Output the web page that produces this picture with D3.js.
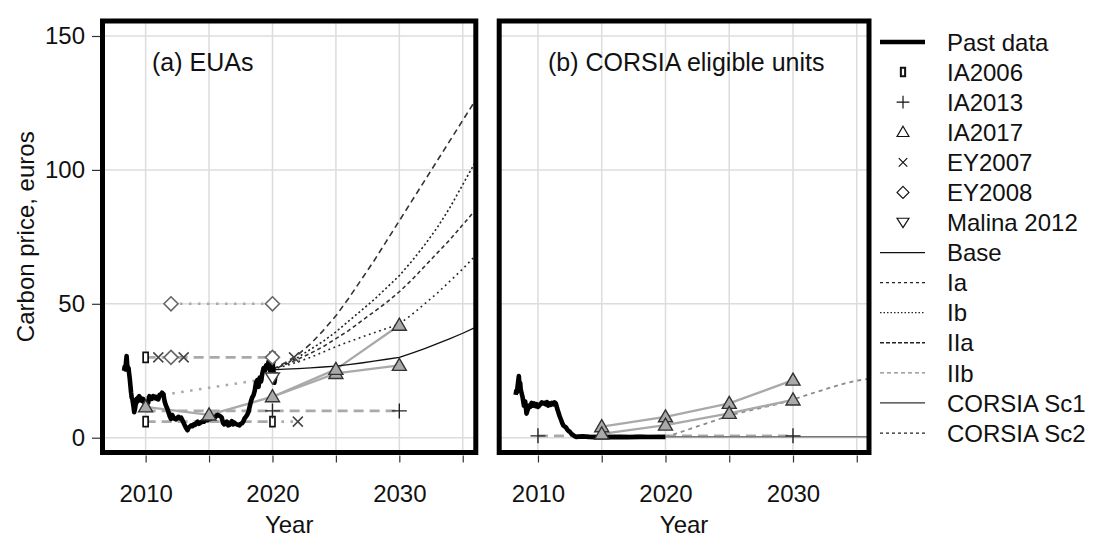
<!DOCTYPE html>
<html><head><meta charset="utf-8">
<script src="https://cdn.jsdelivr.net/npm/d3@7"></script>
<style>
body{margin:0;background:#fff;}
svg{display:block;font-family:"Liberation Sans",Arial,sans-serif;}
</style></head><body>
<svg id="chart" width="1094" height="541"></svg>
<script>
// ---- axis ticks ----
const gridYears = [2010, 2015, 2020, 2025, 2030, 2035];
const labelYears = [2010, 2020, 2030];
const yTicks = [0, 50, 100, 150];

// ---- observed prices: EU allowances [year, EUR] ----
const pastEUA = [
 [2008.30,25.0],[2008.35,26.5],[2008.40,25.5],[2008.45,28.0],[2008.50,30.5],[2008.55,27.0],[2008.60,25.5],
 [2008.65,26.0],[2008.70,24.0],[2008.75,22.0],[2008.80,19.5],[2008.85,17.0],[2008.90,15.0],[2008.95,14.5],
 [2009.00,13.0],[2009.05,11.5],[2009.10,9.5],[2009.15,10.5],[2009.20,12.0],[2009.25,13.0],[2009.30,14.5],
 [2009.35,13.5],[2009.40,15.0],[2009.45,14.0],[2009.50,15.5],[2009.55,14.0],[2009.60,14.8],[2009.70,13.8],
 [2009.80,14.5],[2009.90,13.0],[2010.00,12.5],[2010.10,13.5],[2010.20,13.0],[2010.30,15.5],[2010.40,15.0],
 [2010.50,14.5],[2010.60,15.5],[2010.70,14.8],[2010.80,15.2],[2010.90,14.5],[2011.00,14.3],[2011.10,16.0],
 [2011.20,15.8],[2011.30,16.8],[2011.40,16.3],[2011.50,13.5],[2011.60,12.0],[2011.70,11.0],[2011.80,9.5],
 [2011.90,8.0],[2012.00,7.0],[2012.10,8.5],[2012.20,7.5],[2012.30,7.0],[2012.40,6.8],[2012.50,7.5],
 [2012.60,7.8],[2012.70,7.2],[2012.80,7.5],[2012.90,6.5],[2013.00,5.5],[2013.10,4.5],[2013.20,3.5],
 [2013.30,2.8],[2013.40,3.8],[2013.50,4.2],[2013.60,4.6],[2013.70,4.3],[2013.80,5.0],[2013.90,4.8],
 [2014.00,5.5],[2014.10,6.0],[2014.20,5.2],[2014.30,5.5],[2014.40,5.8],[2014.50,6.2],[2014.60,6.0],
 [2014.70,6.4],[2014.80,6.8],[2014.90,6.5],[2015.00,7.2],[2015.10,7.0],[2015.20,7.4],[2015.30,7.6],
 [2015.40,7.3],[2015.50,7.8],[2015.60,8.3],[2015.70,8.5],[2015.80,8.2],[2015.90,8.0],[2016.00,7.5],
 [2016.10,5.5],[2016.20,5.0],[2016.30,5.6],[2016.40,6.0],[2016.50,4.6],[2016.60,4.8],[2016.70,5.5],
 [2016.80,6.2],[2016.90,5.0],[2017.00,5.6],[2017.10,5.2],[2017.20,5.0],[2017.30,4.8],[2017.40,4.6],
 [2017.50,5.2],[2017.60,5.4],[2017.70,6.0],[2017.80,7.2],[2017.90,7.8],[2018.00,8.5],[2018.10,9.5],
 [2018.20,11.5],[2018.30,13.5],[2018.40,15.0],[2018.50,15.8],[2018.60,17.5],[2018.70,20.5],[2018.80,21.5],
 [2018.90,19.0],[2019.00,22.5],[2019.10,21.0],[2019.20,24.0],[2019.30,26.0],[2019.40,25.0],[2019.50,27.0],
 [2019.60,26.5],[2019.70,28.5],[2019.80,25.0],[2019.90,27.5],[2020.00,29.5],[2020.05,26.0],[2020.10,24.0],
 [2020.15,20.5],[2020.20,22.0],[2020.25,24.5]
];

// ---- observed prices: CORSIA eligible units (CERs) ----
const pastCER = [
 [2008.25,16.0],[2008.30,17.5],[2008.35,17.0],[2008.40,19.0],[2008.45,21.0],[2008.50,23.0],[2008.55,19.5],
 [2008.60,20.5],[2008.65,18.0],[2008.70,17.0],[2008.80,15.0],[2008.90,12.0],[2009.00,13.5],[2009.10,9.0],
 [2009.20,10.5],[2009.30,12.0],[2009.40,11.5],[2009.50,13.0],[2009.60,12.0],[2009.70,12.8],[2009.80,11.8],
 [2009.90,12.5],[2010.00,11.5],[2010.10,12.0],[2010.20,12.6],[2010.30,13.2],[2010.40,12.8],[2010.50,13.0],
 [2010.60,12.5],[2010.70,13.3],[2010.80,12.0],[2010.90,12.8],[2011.00,12.3],[2011.10,13.0],[2011.20,12.5],
 [2011.30,13.2],[2011.40,12.8],[2011.50,11.0],[2011.60,9.5],[2011.70,8.0],[2011.80,6.8],[2011.90,5.5],
 [2012.00,4.5],[2012.10,4.2],[2012.20,3.8],[2012.30,3.0],[2012.40,2.5],[2012.50,2.2],[2012.60,1.6],
 [2012.70,1.2],[2012.80,0.8],[2012.90,0.5],[2013.00,0.3],[2013.20,0.4],[2013.50,0.5],[2014.00,0.3],
 [2014.50,0.2],[2015.00,0.3],[2015.50,0.2],[2016.00,0.3],[2017.00,0.2],[2018.00,0.3],[2019.00,0.25],
 [2020.00,0.3]
];

// ---- published forecasts, panel (a) ----
const ia2006High = [[2010, 30], [2020, 30]];
const ia2006Low = [[2010, 6], [2020, 6]];
const ia2013EuaLine = [[2010, 10], [2030, 10]];
const ia2013EuaPts = [[2020, 10], [2030, 10]];
const ia2017EuaLow = [[2010, 11.5], [2015, 8.5], [2020, 15.3], [2025, 24], [2030, 27]];
const ia2017EuaHigh = [[2020, 15.3], [2025, 25.5], [2030, 42]];
const ey2007Pts = [[2011, 30], [2013, 30], [2021.7, 30], [2022, 6]];
const ey2007Low = [[2020, 6], [2022, 6]];
const ey2008High = [[2012, 50], [2020, 50]];
const ey2008Mid = [[2012, 30], [2020, 30]];
const malina = [[2010, 15], [2020, 22.3]];
const malinaPts = [[2020, 22.3]];

// ---- model scenarios, panel (a) ----
const scenYears = [2020,2021,2022,2023,2024,2025,2026,2027,2028,2029,2030,2031,2032,2033,2034,2035,2036];
const scenBase = [25.3,25.6,25.8,26.1,26.4,26.7,27.3,27.9,28.6,29.3,30.0,31.6,33.3,35.1,37.0,39.0,41.2];
const scenIIa  = [25.5,28.0,31.0,35.0,40.0,45.5,52.0,59.0,66.0,73.5,81.0,88.5,96.0,103.5,111.0,118.5,126.0];
const scenIa   = [25.5,27.5,30.0,33.0,36.0,39.5,43.5,47.5,51.5,56.0,60.5,66.0,72.0,78.5,86.0,94.5,103.0];
const scenIIb  = [25.5,27.3,29.3,31.5,34.0,37.0,40.0,43.5,47.0,50.5,54.5,59.0,64.0,69.0,74.0,79.5,85.0];
const scenIb   = [25.5,26.8,28.3,30.0,32.0,34.0,35.8,37.5,39.2,40.8,42.5,46.0,50.0,54.0,58.5,63.0,68.0];

// ---- panel (b) forecasts and scenarios ----
const ia2013Cer = [[2010, 0.7], [2030, 0.7]];
const ia2017CerHigh = [[2015, 4.1], [2020, 7.8], [2025, 12.8], [2030, 21.5]];
const ia2017CerLow = [[2015, 1.4], [2020, 4.7], [2025, 9.1], [2030, 14.1]];
const corsiaSc1 = [[2020, 0.4], [2036.5, 0.4]];
const corsiaSc2 = [0.3,1.8,3.4,5.0,6.6,8.3,9.5,10.6,11.7,12.8,14.3,15.8,17.3,18.8,20.2,21.3,22.0];

const legendLabels = ["Past data","IA2006","IA2013","IA2017","EY2007","EY2008","Malina 2012",
  "Base","Ia","Ib","IIa","IIb","CORSIA Sc1","CORSIA Sc2"];

// ---------------------------------------------------------------
const svg = d3.select("#chart");
const FRAME_TOP = 21, FRAME_BOTTOM = 452.5;
const y = d3.scaleLinear().domain([0, 150]).range([437.7, 36]);

const panels = [
  { key: "a", title: "(a) EUAs", titleX: 152,
    x: d3.scaleLinear().domain([2006.6, 2036.03]).range([102.5, 475.8]) },
  { key: "b", title: "(b) CORSIA eligible units", titleX: 548,
    x: d3.scaleLinear().domain([2006.96, 2035.96]).range([499.2, 869]) }
];

const styles = {
  past:     { stroke: "#000", width: 4.6, dash: null },
  grayDash: { stroke: "#a9a9a9", width: 2.6, dash: "10,6" },
  grayDot:  { stroke: "#a9a9a9", width: 2.6, dash: "2.5,6.5" },
  graySolid:{ stroke: "#a9a9a9", width: 2.3, dash: null },
  base:     { stroke: "#111", width: 1.3, dash: null },
  IIa:      { stroke: "#333", width: 1.6, dash: "6,4" },
  Ia:       { stroke: "#222", width: 1.6, dash: "2,2.5" },
  IIb:      { stroke: "#333", width: 1.6, dash: "4,3" },
  Ib:       { stroke: "#222", width: 1.6, dash: "1.8,3.6" },
  sc1:      { stroke: "#777", width: 1.5, dash: null },
  sc2:      { stroke: "#8a8a8a", width: 1.8, dash: "4,4" }
};

function markerPath(type) {
  switch (type) {
    case "rect": return "M-2.5,-5H2.5V5H-2.5Z";
    case "plus": return "M-7.5,0H7.5M0,-7.5V7.5";
    case "tri": return "M0,-7L7,5H-7Z";
    case "cross": return "M-5,-5L5,5M-5,5L5,-5";
    case "diamond": return "M0,-7L7,0L0,7L-7,0Z";
    case "tridown": return "M0,6L7,-5H-7Z";
  }
}
const markerStyle = {
  rect:    { fill: "#fff", stroke: "#111", width: 1.7 },
  plus:    { fill: "none", stroke: "#222", width: 1.4 },
  tri:     { fill: "#a9a9a9", stroke: "#333", width: 1.4 },
  cross:   { fill: "none", stroke: "#444", width: 1.5 },
  diamond: { fill: "#fff", stroke: "#666", width: 1.6 },
  tridown: { fill: "#fff", stroke: "#444", width: 1.4 }
};

function drawLine(g, x, pts, st) {
  g.append("path")
    .datum(pts)
    .attr("d", d3.line().x(d => x(d[0])).y(d => y(d[1])))
    .attr("fill", "none")
    .attr("stroke", st.stroke)
    .attr("stroke-width", st.width)
    .attr("stroke-linejoin", "round")
    .attr("stroke-dasharray", st.dash);
}
function drawCurve(g, x, years, vals, st) {
  drawLine(g, x, years.map((yr, i) => [yr, vals[i]]), st);
}
function drawMarkers(g, x, pts, type, override) {
  const ms = Object.assign({}, markerStyle[type], override || {});
  g.selectAll(null).data(pts).enter().append("path")
    .attr("transform", d => `translate(${x(d[0])},${y(d[1])})`)
    .attr("d", markerPath(type))
    .attr("fill", ms.fill)
    .attr("stroke", ms.stroke)
    .attr("stroke-width", ms.width);
}

panels.forEach(p => {
  const x = p.x;
  const [x0, x1] = x.range();
  const root = svg.append("g");

  root.append("clipPath").attr("id", "clip-" + p.key)
    .append("rect").attr("x", x0).attr("y", FRAME_TOP)
    .attr("width", x1 - x0).attr("height", FRAME_BOTTOM - FRAME_TOP);

  // grid
  const grid = root.append("g").attr("stroke", "#dcdcdc").attr("stroke-width", 1.5);
  grid.selectAll(null).data(gridYears).enter().append("line")
    .attr("x1", d => x(d)).attr("x2", d => x(d)).attr("y1", FRAME_TOP).attr("y2", FRAME_BOTTOM);
  grid.selectAll(null).data(yTicks).enter().append("line")
    .attr("x1", x0).attr("x2", x1).attr("y1", d => y(d)).attr("y2", d => y(d));

  const g = root.append("g").attr("clip-path", `url(#clip-${p.key})`);

  if (p.key === "a") {
    drawLine(g, x, ia2006High, styles.grayDash);
    drawLine(g, x, ia2006Low, styles.grayDash);
    drawLine(g, x, ia2013EuaLine, styles.grayDash);
    drawLine(g, x, ey2008High, styles.grayDot);
    drawLine(g, x, ey2007Low, styles.grayDot);
    drawLine(g, x, malina, styles.grayDot);
    drawLine(g, x, ia2017EuaLow, styles.graySolid);
    drawLine(g, x, ia2017EuaHigh, styles.graySolid);
    drawCurve(g, x, scenYears, scenIIa, styles.IIa);
    drawCurve(g, x, scenYears, scenIa, styles.Ia);
    drawCurve(g, x, scenYears, scenIIb, styles.IIb);
    drawCurve(g, x, scenYears, scenIb, styles.Ib);
    drawCurve(g, x, scenYears, scenBase, styles.base);
    drawLine(g, x, pastEUA, styles.past);
    drawMarkers(g, x, ia2006High.concat(ia2006Low), "rect");
    drawMarkers(g, x, ia2013EuaPts, "plus");
    drawMarkers(g, x, ey2008High.concat(ey2008Mid), "diamond");
    drawMarkers(g, x, ey2007Pts, "cross");
    drawMarkers(g, x, malinaPts, "tridown");
    drawMarkers(g, x, ia2017EuaLow.concat(ia2017EuaHigh.slice(1)), "tri");
  } else {
    drawLine(g, x, ia2013Cer, styles.grayDash);
    drawLine(g, x, corsiaSc1, styles.sc1);
    drawCurve(g, x, scenYears, corsiaSc2, styles.sc2);
    drawLine(g, x, ia2017CerHigh, styles.graySolid);
    drawLine(g, x, ia2017CerLow, styles.graySolid);
    drawLine(g, x, pastCER, styles.past);
    drawMarkers(g, x, ia2013Cer, "plus");
    drawMarkers(g, x, ia2017CerHigh.concat(ia2017CerLow), "tri");
  }

  // panel title
  root.append("text").attr("x", p.titleX).attr("y", 71)
    .attr("font-size", 25).attr("fill", "#111").text(p.title);

  // bottom axis
  const xAxis = d3.axisBottom(x).tickValues(gridYears).tickSize(7)
    .tickFormat(d => labelYears.includes(d) ? String(d) : "");
  const ax = root.append("g").attr("transform", `translate(0,${FRAME_BOTTOM + 3})`).call(xAxis);
  ax.select(".domain").remove();
  ax.selectAll(".tick line").attr("stroke", "#333").attr("stroke-width", 1.2);
  ax.selectAll(".tick text").attr("y", 46).attr("dy", 0)
    .attr("font-size", 24).attr("font-family", "Liberation Sans, Arial, sans-serif").attr("fill", "#111");

  root.append("text").attr("x", (x0 + x1) / 2).attr("y", 533)
    .attr("text-anchor", "middle").attr("font-size", 24).attr("fill", "#111").text("Year");

  // frame
  root.append("rect").attr("x", x0).attr("y", FRAME_TOP)
    .attr("width", x1 - x0).attr("height", FRAME_BOTTOM - FRAME_TOP)
    .attr("fill", "none").attr("stroke", "#000").attr("stroke-width", 5);

  if (p.key === "a") {
    const yAxis = d3.axisLeft(y).tickValues(yTicks).tickSize(8);
    const ay = root.append("g").attr("transform", `translate(${x0 - 2.5},0)`).call(yAxis);
    ay.select(".domain").remove();
    ay.selectAll(".tick line").attr("stroke", "#333").attr("stroke-width", 1.2);
    ay.selectAll(".tick text").attr("x", -15).attr("font-size", 24)
      .attr("font-family", "Liberation Sans, Arial, sans-serif").attr("fill", "#111");
    root.append("text")
      .attr("transform", `translate(34,${(FRAME_TOP + FRAME_BOTTOM) / 2}) rotate(-90)`)
      .attr("text-anchor", "middle").attr("font-size", 24).attr("fill", "#111")
      .text("Carbon price, euros");
  }
});

// ---- legend ----
const legend = svg.append("g");
const rowY = i => 42 + i * 30.08;
const lx0 = 880, lx1 = 925, lsym = 903, ltext = 947;
const legendKinds = [
  { line: styles.past },
  { marker: "rect" }, { marker: "plus" }, { marker: "tri" }, { marker: "cross" },
  { marker: "diamond" }, { marker: "tridown" },
  { line: { stroke: "#111", width: 1.3, dash: null } },
  { line: { stroke: "#222", width: 1.3, dash: "3,3" } },
  { line: { stroke: "#222", width: 1.3, dash: "1.5,2" } },
  { line: { stroke: "#222", width: 1.4, dash: "4,2" } },
  { line: { stroke: "#888", width: 1.3, dash: "4,3" } },
  { line: { stroke: "#333", width: 1.3, dash: null } },
  { line: { stroke: "#222", width: 1.3, dash: "3,3" } }
];
legendLabels.forEach((lab, i) => {
  const k = legendKinds[i];
  const cy = rowY(i);
  if (k.line) {
    legend.append("line").attr("x1", lx0).attr("x2", lx1).attr("y1", cy).attr("y2", cy)
      .attr("stroke", k.line.stroke).attr("stroke-width", k.line.width)
      .attr("stroke-dasharray", k.line.dash);
  } else {
    const ms = markerStyle[k.marker];
    legend.append("path").attr("transform", `translate(${lsym},${cy}) scale(0.85)`)
      .attr("d", markerPath(k.marker))
      .attr("fill", ms.fill === "none" ? "none" : "#fff")
      .attr("stroke", "#111").attr("stroke-width", k.marker === "rect" ? 2.4 : 1.4);
  }
  legend.append("text").attr("x", ltext).attr("y", cy).attr("dy", "0.36em")
    .attr("font-size", 24).attr("fill", "#111").text(lab);
});
</script></body></html>
